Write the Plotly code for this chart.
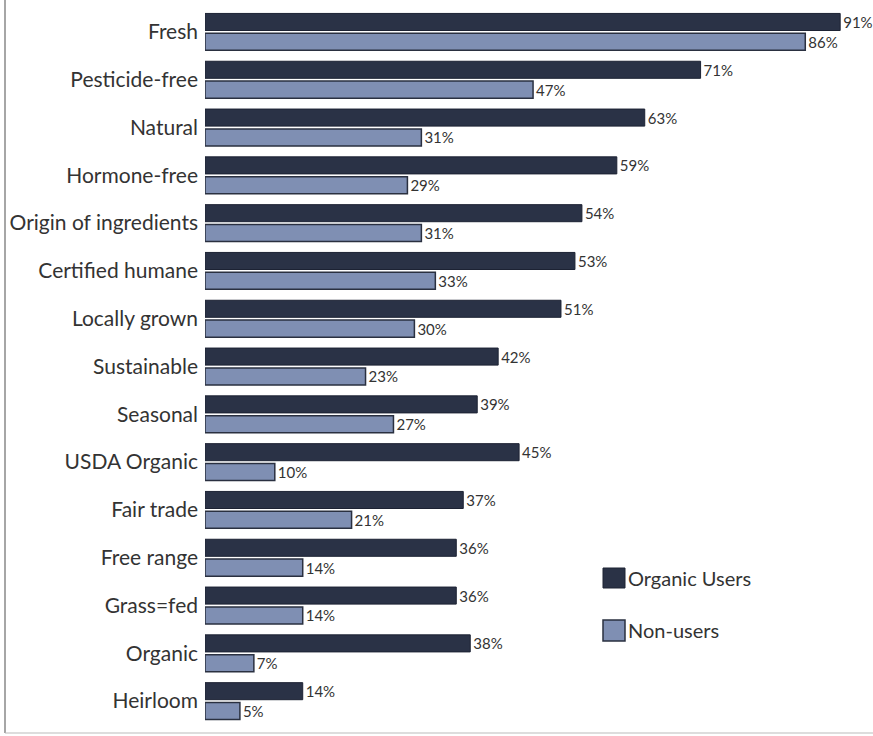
import plotly.graph_objects as go

categories = ["Fresh", "Pesticide-free", "Natural", "Hormone-free", "Origin of ingredients",
              "Certified humane", "Locally grown", "Sustainable", "Seasonal", "USDA Organic",
              "Fair trade", "Free range", "Grass=fed", "Organic", "Heirloom"]
organic_users = [91, 71, 63, 59, 54, 53, 51, 42, 39, 45, 37, 36, 36, 38, 14]
non_users = [86, 47, 31, 29, 31, 33, 30, 23, 27, 10, 21, 14, 14, 7, 5]

W, H = 873, 736
L, R, T, B = 205, 0, 8, 11
FONT = "Lato"

fig = go.Figure()
fig.add_trace(go.Bar(
    y=categories, x=organic_users, orientation="h", name="Organic Users",
    marker=dict(color="#2a3246", line=dict(color="#1c2233", width=1)),
    text=[f"{v}%" for v in organic_users], textposition="outside", constraintext="none",
    textfont=dict(family=FONT, size=15, color="#333333"), cliponaxis=False,
))
fig.add_trace(go.Bar(
    y=categories, x=non_users, orientation="h", name="Non-users",
    marker=dict(color="#7f8fb3", line=dict(color="#2a3040", width=1.5)),
    text=[f"{v}%" for v in non_users], textposition="outside", constraintext="none",
    textfont=dict(family=FONT, size=15, color="#333333"), cliponaxis=False,
))

pw = W - L - R
ph = H - T - B
def px(x):
    return (x - L) / pw
def py(y):
    return 1 - (y - T) / ph

shapes = [
    dict(type="line", xref="paper", yref="paper", x0=px(5), x1=px(5), y0=py(0), y1=py(733),
         line=dict(color="#888888", width=1.5)),
    dict(type="line", xref="paper", yref="paper", x0=px(5), x1=px(873), y0=py(733), y1=py(733),
         line=dict(color="#bbbbbb", width=1)),
    dict(type="rect", xref="paper", yref="paper", x0=px(603), x1=px(625), y0=py(568), y1=py(588),
         fillcolor="#2a3246", line=dict(color="#1c2233", width=1)),
    dict(type="rect", xref="paper", yref="paper", x0=px(603), x1=px(625), y0=py(620), y1=py(641),
         fillcolor="#7f8fb3", line=dict(color="#2a3040", width=1.5)),
]
annotations = [
    dict(xref="paper", yref="paper", x=px(626), y=py(578), text="Organic Users", showarrow=False,
         xanchor="left", yanchor="middle", font=dict(family=FONT, size=20, color="#333333")),
    dict(xref="paper", yref="paper", x=px(626), y=py(630), text="Non-users", showarrow=False,
         xanchor="left", yanchor="middle", font=dict(family=FONT, size=20, color="#333333")),
]

fig.update_layout(
    width=W, height=H,
    margin=dict(l=L, r=R, t=T, b=B),
    paper_bgcolor="white", plot_bgcolor="white",
    barmode="group", bargap=0.17, bargroupgap=0.14,
    showlegend=False,
    shapes=shapes, annotations=annotations,
    xaxis=dict(range=[0, pw / 6.98], visible=False, automargin=False),
    yaxis=dict(autorange="reversed", showgrid=False, showline=False, ticks="", automargin=False,
               tickfont=dict(family=FONT, size=21, color="#333333"), ticklabelstandoff=6),
    font=dict(family=FONT),
)

fig.write_html("out.html", config={"displayModeBar": False},
               post_script="document.body.style.margin='0';document.body.style.overflow='hidden';")
